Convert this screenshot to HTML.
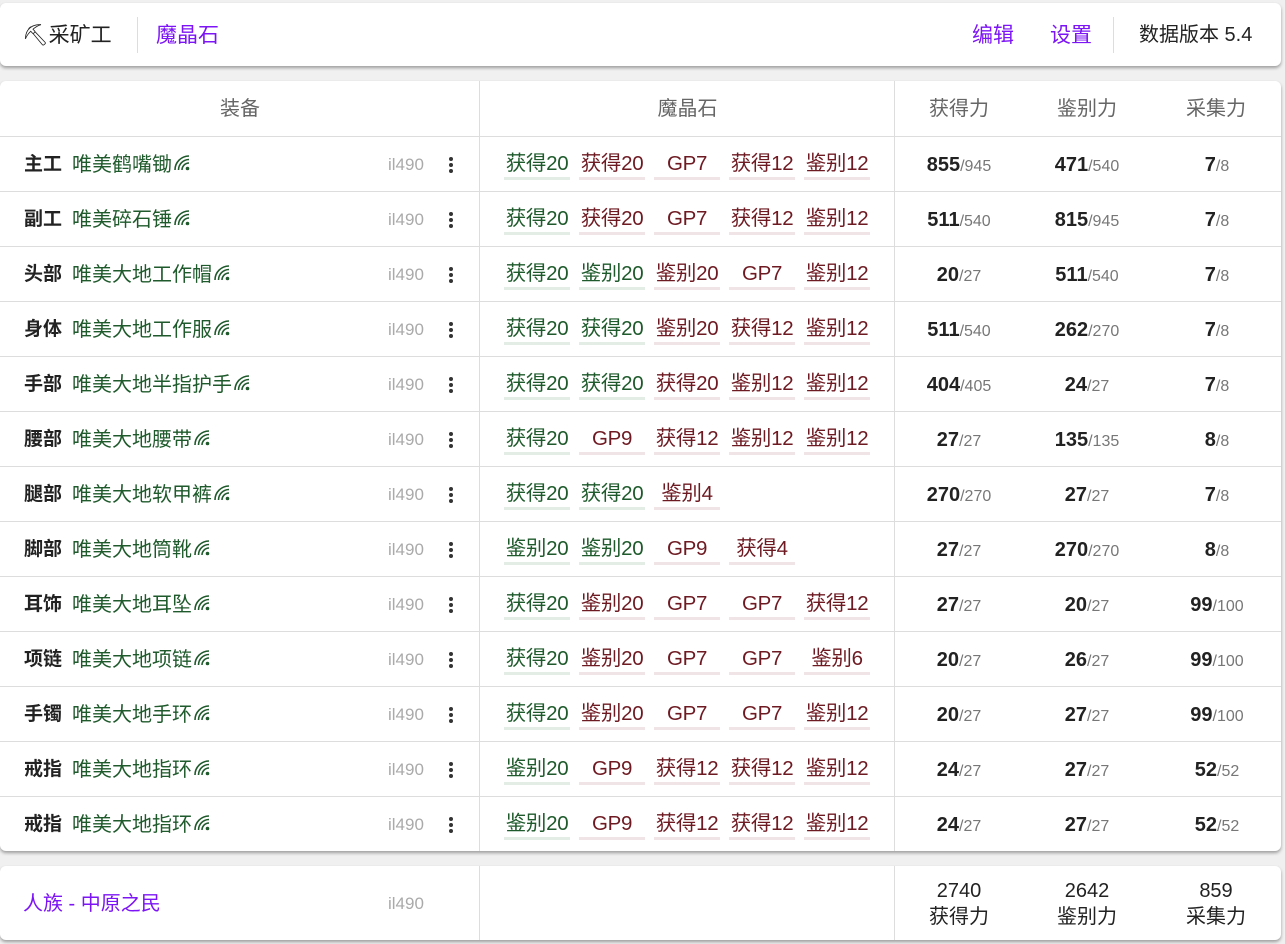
<!DOCTYPE html>
<html><head><meta charset="utf-8">
<style>
*{box-sizing:border-box;margin:0;padding:0}
body{width:1285px;height:944px;background:#f0f0f0;font-family:"Liberation Sans","Noto Sans CJK SC",sans-serif;position:relative;overflow:hidden;color:#222}
.card{position:absolute;left:0;width:1281px;background:#fff;border-radius:6px;box-shadow:0 2px 3px rgba(0,0,0,.35)}
.abs{position:absolute;white-space:nowrap}
.top{top:3px;height:63px}
.vl{position:absolute;width:1px;background:#ddd}
.hl{position:absolute;height:1px;background:#ddd;left:0;width:1281px}
.link{color:#7c14f5;font-size:21px;line-height:65px;top:0}
.th{top:0;height:55px;line-height:56px;font-size:20px;color:#666;text-align:center}
.cell{height:55px;line-height:58px}
.slot{font-weight:bold;font-size:19px;left:24px}
.name{left:72px;font-size:20px;color:#1e5a2b}
.name svg{vertical-align:-2px;margin-left:1px}
.il{left:388px;font-size:17px;color:#aaa}
.dots{left:449px;width:4px}
.dots i{display:block;width:4px;height:4px;border-radius:2px;background:#333;margin-bottom:2px}
.chip{width:66px;text-align:center;font-size:20.5px;color:#6e1a22;border-bottom:3px solid #f1e4e7;line-height:27px;letter-spacing:-0.3px}
.chip.g{color:#1e5a2b;border-bottom-color:#e3ede5}
.stat{width:128px;text-align:center;font-size:20px}
.stat b{color:#222}.stat span{color:#777;font-size:16px}
</style></head><body>
<div class="card top">
 <div class="abs" style="left:22px;top:0;line-height:65px;font-size:21px">⛏采矿工</div>
 <div class="vl" style="left:137px;top:14px;height:36px"></div>
 <div class="abs link" style="left:156px">魔晶石</div>
 <div class="abs link" style="left:972px">编辑</div>
 <div class="abs link" style="left:1050px">设置</div>
 <div class="vl" style="left:1113px;top:14px;height:36px"></div>
 <div class="abs" style="left:1139px;top:0;line-height:65px;font-size:20px">数据版本 5.4</div>
</div>
<div class="card" id="tbl" style="top:81px;height:770px">
 <div class="abs th" style="left:0;width:480px">装备</div>
 <div class="abs th" style="left:480px;width:415px">魔晶石</div>
 <div class="abs th" style="left:895px;width:128px">获得力</div>
 <div class="abs th" style="left:1023px;width:128px">鉴别力</div>
 <div class="abs th" style="left:1151px;width:130px">采集力</div>
 <div class="vl" style="left:479px;top:0;height:770px"></div>
 <div class="vl" style="left:894px;top:0;height:770px"></div>
</div>
<div class="card" style="top:866px;height:74px">
 <div class="abs" style="left:23px;top:0;line-height:76px;font-size:20px;color:#7c14f5">人族 - 中原之民</div>
 <div class="abs il" style="top:0;line-height:76px">il490</div>
 <div class="vl" style="left:479px;top:0;height:74px"></div>
 <div class="vl" style="left:894px;top:0;height:74px"></div>
 <div class="abs" style="left:895px;top:12px;width:128px;text-align:center;font-size:20px;line-height:26px">2740<br>获得力</div>
 <div class="abs" style="left:1023px;top:12px;width:128px;text-align:center;font-size:20px;line-height:26px">2642<br>鉴别力</div>
 <div class="abs" style="left:1151px;top:12px;width:130px;text-align:center;font-size:20px;line-height:26px">859<br>采集力</div>
</div>
<script>
const slots=["主工","副工","头部","身体","手部","腰部","腿部","脚部","耳饰","项链","手镯","戒指","戒指"];
const names=["唯美鹤嘴锄","唯美碎石锤","唯美大地工作帽","唯美大地工作服","唯美大地半指护手","唯美大地腰带","唯美大地软甲裤","唯美大地筒靴","唯美大地耳坠","唯美大地项链","唯美大地手环","唯美大地指环","唯美大地指环"];
const materia=[["获得20","获得20","GP7","获得12","鉴别12"],["获得20","获得20","GP7","获得12","鉴别12"],["获得20","鉴别20","鉴别20","GP7","鉴别12"],["获得20","获得20","鉴别20","获得12","鉴别12"],["获得20","获得20","获得20","鉴别12","鉴别12"],["获得20","GP9","获得12","鉴别12","鉴别12"],["获得20","获得20","鉴别4"],["鉴别20","鉴别20","GP9","获得4"],["获得20","鉴别20","GP7","GP7","获得12"],["获得20","鉴别20","GP7","GP7","鉴别6"],["获得20","鉴别20","GP7","GP7","鉴别12"],["鉴别20","GP9","获得12","获得12","鉴别12"],["鉴别20","GP9","获得12","获得12","鉴别12"]];
const greenCount=[1,1,2,2,2,1,2,2,1,1,1,1,1];
const gath=[855,511,20,511,404,27,270,27,27,20,20,24,24];
const gathMax=[945,540,27,540,405,27,270,27,27,27,27,27,27];
const perc=[471,815,511,262,24,135,27,270,20,26,27,27,27];
const percMax=[540,945,540,270,27,135,27,270,27,27,27,27,27];
const gp=[7,7,7,7,7,8,7,8,99,99,99,52,52];
const gpMax=[8,8,8,8,8,8,8,8,100,100,100,52,52];
const icon='<svg width="19" height="19" viewBox="0 0 19 19"><g fill="none" stroke="#1e5a2b" stroke-width="1.6"><path d="M2 16A14 14 0 0 1 16 2"/><path d="M5.5 16A10.5 10.5 0 0 1 16 5.5"/><path d="M9 16A7 7 0 0 1 16 9"/></g><circle cx="14.5" cy="14.5" r="1.8" fill="#1e5a2b"/></svg>';
const tbl=document.getElementById('tbl');
function add(html,cls,style,name){const d=document.createElement('div');d.className='abs '+cls;d.style.cssText=style;d.innerHTML=html;


tbl.appendChild(d);return d;}
slots.forEach((s,i)=>{
 const y=55+i*55;
 const l=document.createElement('div');l.className='hl';l.style.top=y+'px';tbl.appendChild(l);
 add(s,'slot cell','top:'+y+'px','slot-label');
 add(names[i]+icon,'name cell','top:'+y+'px','item-name');
 add('il490','il cell','top:'+y+'px','item-level');
 const dt=add('<i></i><i></i><i></i>','dots','top:'+(y+21)+'px','item-menu');
 
 materia[i].forEach((m,j)=>{
  const c=add(m,'chip'+(j<greenCount[i]?' g':''),'left:'+(504+j*75)+'px;top:'+(y+14)+'px','materia-chip');
  
 });
 add('<b>'+gath[i]+'</b><span>/'+gathMax[i]+'</span>','stat cell','left:895px;top:'+y+'px','gathering-value');
 add('<b>'+perc[i]+'</b><span>/'+percMax[i]+'</span>','stat cell','left:1023px;top:'+y+'px','perception-value');
 add('<b>'+gp[i]+'</b><span>/'+gpMax[i]+'</span>','stat cell','left:1153px;top:'+y+'px','gp-value');
});
</script>
</body></html>
